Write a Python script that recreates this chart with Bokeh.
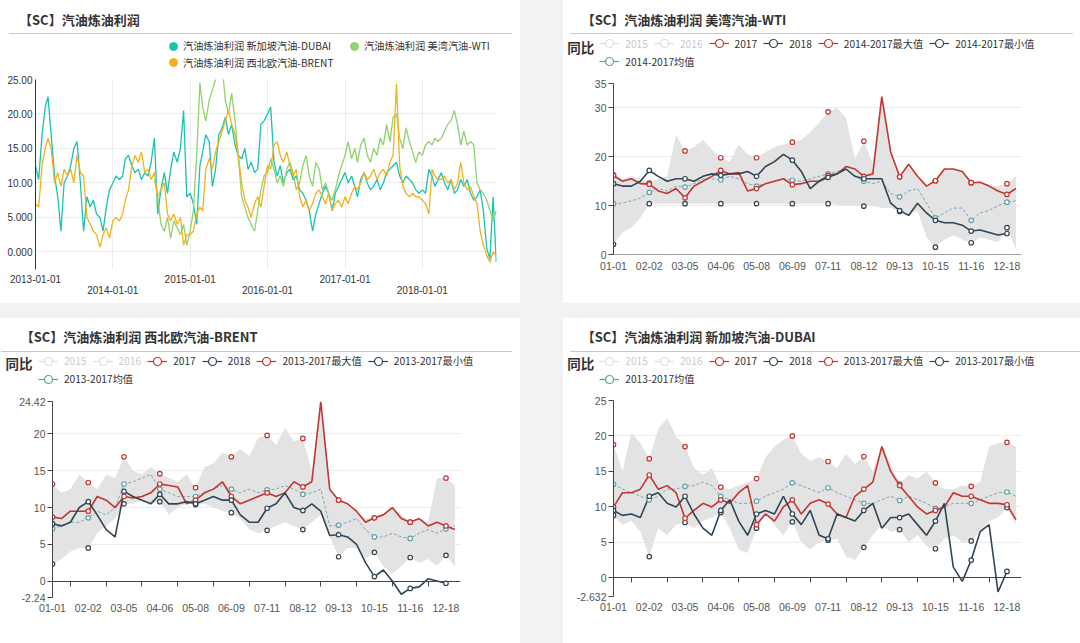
import pandas as pd
from bokeh.plotting import figure
from bokeh.models import (ColumnDataSource, FixedTicker, LinearAxis, Legend, LegendItem,
                          Label, Div, Range1d, CustomJSTickFormatter, Grid)
from bokeh.layouts import column, row
from bokeh.embed import file_html
from bokeh.resources import INLINE
from bokeh.core.properties import value

nan = float("nan")
CJK = "Noto Sans CJK SC"
NUM = "Liberation Sans"

# ---------------- Panel A : daily margins 2013-2018 (read at the 1st and 16th of each month)
year_labels = ["2013-01-01", "2014-01-01", "2015-01-01", "2016-01-01", "2017-01-01", "2018-01-01"]
a_start, a_end = "2013-01-01", "2018-12-17"
a_dates = [f"{y}-{m:02d}-{d:02d}" for y in range(2013, 2019) for m in range(1, 13) for d in (1, 16)]
a_names = ["汽油炼油利润 新加坡汽油-DUBAI", "汽油炼油利润 美湾汽油-WTI", "汽油炼油利润 西北欧汽油-BRENT"]
a_dubai = [12.5, 10.5, 17.0, 21.0, 22.5, 17.0, 11.0, 8.0, 3.0, 10.0, 11.0, 12.5, 15.0, 16.0, 10.0, 3.0, 8.0, 6.5, 7.5, 5.5, 5.0, 3.0, 6.5, 9.0,
           10.0, 11.0, 10.5, 11.0, 13.5, 14.0, 12.5, 11.5, 12.0, 10.5, 11.5, 11.0, 13.0, 16.5, 5.5, 9.0, 11.5, 8.5, 12.0, 14.5, 13.0, 15.0, 20.5, 8.0,
           8.5, 7.0, 4.0, 12.5, 14.5, 17.0, 16.0, 9.5, 12.0, 17.0, 18.0, 19.5, 17.0, 18.5, 15.5, 14.0, 13.5, 15.0, 12.0, 13.0, 11.5, 12.0, 18.5, 19.0,
           20.0, 21.0, 13.0, 11.0, 12.5, 10.0, 11.5, 12.0, 10.5, 11.0, 9.0, 8.5, 7.5, 6.0, 3.0, 5.5, 7.0, 8.5, 9.5, 8.5, 6.0, 8.5, 9.5, 10.5,
           11.5, 10.0, 11.0, 9.5, 8.0, 10.5, 11.5, 10.0, 9.0, 9.5, 10.5, 9.0, 10.0, 11.5, 12.0, 12.5, 13.0, 11.0, 10.0, 11.0, 10.5, 10.0, 9.0, 8.5,
           9.0, 8.5, 12.0, 11.0, 9.5, 10.5, 11.5, 10.0, 9.0, 10.5, 8.5, 9.0, 10.5, 9.5, 10.5, 8.5, 7.5, 8.0, 9.0, 6.0, 0.5, -1.0, 8.0, -1.5]
a_wti = [nan] * 37 + [10.5, 8.0, 4.0, 3.0, 5.0, 2.0, 4.5, 3.5, 2.5, 4.0, 1.0,
         3.0, 6.0, 14.0, 24.5, 21.0, 19.0, 22.0, 23.5, 25.0, 26.0, 27.0, 22.0, 20.0, 23.0, 19.0, 14.0, 8.0, 6.5, 5.0, 4.0, 3.0, 6.0, 9.0, 11.0,
         11.5, 13.5, 12.0, 10.0, 11.0, 9.5, 12.0, 13.0, 11.5, 9.0, 10.0, 12.5, 14.0, 11.0, 9.5, 13.0, 12.0, 9.0, 10.0, 8.5, 7.5, 9.0, 11.0, 12.5,
         14.0, 16.0, 13.5, 15.0, 13.0, 15.5, 16.5, 14.0, 13.0, 15.0, 14.0, 16.5, 15.5, 18.5, 16.0, 19.5, 20.0, 16.5, 15.0, 18.0, 16.0, 14.5, 13.0, 14.5,
         14.0, 15.5, 16.0, 15.5, 16.5, 16.0, 16.5, 17.5, 18.5, 19.0, 20.5, 18.5, 15.5, 17.5, 15.5, 16.0, 15.5, 10.0, 9.0, 8.5, 7.5, 6.0, 4.5, 6.0]
a_brent = [7.0, 6.5, 12.5, 15.0, 16.5, 15.0, 10.0, 11.5, 9.5, 12.0, 11.0, 12.0, 10.0, 14.0, 11.5, 11.0, 5.0, 4.0, 3.0, 2.5, 0.7, 2.5, 3.5, 2.0,
           4.5, 5.0, 4.5, 5.5, 7.5, 9.0, 12.5, 14.0, 13.0, 14.5, 11.5, 12.0, 10.5, 11.5, 8.0, 9.0, 10.0, 5.5, 4.5, 5.5, 4.0, 5.0, 1.0, 2.5,
           2.5, 3.0, 5.5, 6.5, 6.0, 12.0, 13.5, 12.0, 14.5, 16.0, 17.5, 19.0, 20.5, 18.5, 17.0, 14.0, 10.0, 7.5, 6.5, 5.0, 7.0, 8.0, 6.5, 9.5,
           12.5, 12.0, 15.5, 16.0, 14.0, 13.0, 14.5, 12.5, 11.0, 12.0, 8.0, 6.5, 7.5, 6.0, 7.0, 8.5, 9.0, 8.0, 7.0, 8.5, 6.0, 7.0, 7.5, 6.5,
           8.0, 7.0, 8.5, 9.5, 9.0, 10.0, 11.5, 10.5, 11.0, 12.0, 10.5, 11.5, 12.0, 11.0, 13.0, 14.0, 24.4, 12.5, 9.5, 8.5, 8.0, 8.5, 8.0, 8.0,
           7.5, 7.0, 5.5, 12.0, 11.0, 10.5, 10.5, 11.0, 10.0, 10.5, 9.0, 10.0, 13.0, 10.0, 9.0, 9.5, 8.0, 7.0, 3.0, 1.0, -0.5, -1.5, 0.0, -0.5]
a_yticks = [0, 5, 10, 15, 20, 25]
a_ylabels = ["0.000", "5.000", "10.00", "15.00", "20.00", "25.00"]
a_ymin = -2.55

# ---------------- Seasonal panels (x = day of a leap year, read every 8 days)
md_labels = ["01-01", "02-02", "03-05", "04-06", "05-08", "06-09", "07-11", "08-12", "09-13", "10-15", "11-16", "12-18"]
s_days = list(range(0, 361, 8))

wti_title = "【SC】汽油炼油利润 美湾汽油-WTI"
wti_names = ["2015", "2016", "2017", "2018", "2014-2017最大值", "2014-2017最小值", "2014-2017均值"]
wti_2017 = [16.2, 15.0, 15.5, 14.5, 14.4, 13.0, 12.5, 13.5, 11.6, 14.0, 15.0, 16.0, 17.2, 16.5, 16.8, 13.0, 13.5, 14.5, 15.0, 15.5, 14.3, 14.5, 15.0,
            15.0, 16.2, 16.5, 18.0, 17.5, 16.0, 16.5, 32.3, 21.0, 15.9, 18.5, 16.0, 14.0, 15.1, 17.5, 17.5, 17.0, 14.7, 14.8, 14.0, 13.0, 12.3, 13.5]
wti_2018 = [14.5, 14.0, 14.0, 15.0, 17.2, 16.0, 15.0, 15.5, 15.5, 15.0, 16.0, 16.5, 16.2, 16.5, 16.5, 17.0, 16.0, 18.0, 19.0, 20.5, 19.3, 17.0, 13.5,
            15.0, 15.8, 16.5, 17.5, 16.0, 15.5, 15.5, 15.5, 10.5, 9.0, 8.0, 10.5, 8.5, 7.0, 6.5, 6.5, 6.0, 4.8, 5.0, 4.5, 4.0, 4.3, nan]
wti_max = [16.3, 15.5, 16.0, 15.5, 14.6, 15.5, 16.0, 24.5, 21.2, 22.0, 23.5, 21.5, 19.8, 19.0, 22.5, 20.5, 19.8, 21.0, 22.0, 22.5, 23.0, 23.5, 25.0,
           27.0, 29.2, 30.0, 28.0, 19.5, 23.2, 18.5, 32.3, 21.0, 15.9, 18.5, 16.0, 14.0, 15.1, 17.5, 17.5, 17.0, 14.7, 14.8, 14.0, 14.0, 14.5, 16.0]
wti_min = [2.1, 4.5, 5.5, 7.5, 10.4, 10.4, 10.4, 10.4, 10.4, 10.4, 10.4, 10.4, 10.4, 10.4, 10.4, 10.4, 10.4, 10.4, 10.4, 10.4, 10.4, 10.4, 10.4,
           10.4, 10.4, 10.2, 10.0, 10.0, 9.9, 10.0, 9.5, 9.5, 8.8, 8.0, 9.0, 3.5, 1.5, 3.0, 4.0, 3.0, 2.4, 3.5, 3.0, 2.5, 5.5, 1.0]
wti_mean = [10.4, 10.5, 11.0, 11.5, 12.7, 13.5, 13.0, 14.0, 13.8, 14.5, 15.5, 15.5, 15.3, 16.0, 15.5, 14.5, 14.0, 14.5, 15.0, 15.5, 15.2, 15.0, 15.5,
            16.0, 16.5, 17.0, 17.5, 16.0, 15.0, 14.5, 15.0, 12.5, 11.8, 13.0, 13.5, 10.5, 7.5, 8.5, 9.5, 9.5, 7.0, 8.5, 9.0, 10.0, 10.7, 11.0]
wti_yticks = [0, 10, 20, 30, 35]
wti_ylabels = ["0", "10", "20", "30", "35"]

brent_title = "【SC】汽油炼油利润 西北欧汽油-BRENT"
brent_names = ["2015", "2016", "2017", "2018", "2013-2017最大值", "2013-2017最小值", "2013-2017均值"]
brent_2017 = [8.7, 8.5, 9.5, 9.5, 9.5, 11.5, 11.0, 10.0, 11.5, 11.3, 11.5, 12.0, 13.2, 13.0, 12.8, 10.5, 11.0, 12.0, 12.5, 13.5, 11.5, 10.5, 11.0,
              11.5, 12.0, 11.5, 12.0, 13.5, 12.8, 13.5, 24.4, 12.5, 11.0, 10.5, 9.5, 8.0, 8.6, 9.0, 10.0, 8.5, 8.0, 8.5, 7.5, 8.0, 7.5, 7.0]
brent_2018 = [7.8, 7.5, 8.0, 10.0, 10.8, 9.0, 7.0, 6.0, 12.2, 11.5, 11.0, 10.5, 11.8, 10.5, 10.5, 10.8, 10.5, 11.0, 11.5, 11.0, 11.0, 9.0, 8.0,
              8.0, 9.9, 10.5, 12.0, 10.0, 9.6, 10.5, 9.5, 6.2, 6.3, 6.0, 5.0, 2.5, 0.6, 1.5, 0.0, -1.8, -1.0, -0.8, 0.3, 0.0, -0.3, nan]
brent_max = [13.2, 12.0, 12.5, 14.5, 13.4, 12.5, 14.5, 14.0, 16.9, 15.0, 14.5, 15.5, 14.6, 14.0, 13.5, 14.5, 12.7, 15.5, 16.0, 17.5, 16.9, 18.0, 17.0,
             19.5, 19.8, 18.5, 20.8, 19.0, 19.4, 15.0, 24.4, 12.5, 11.0, 10.5, 9.5, 8.5, 8.6, 9.0, 10.0, 9.0, 8.0, 8.5, 8.0, 14.0, 14.0, 13.0]
brent_min = [2.3, 3.0, 4.0, 4.5, 4.5, 6.5, 7.5, 8.5, 10.5, 10.5, 11.0, 10.5, 10.8, 9.0, 10.0, 10.5, 10.4, 10.5, 10.0, 9.5, 9.3, 8.5, 7.0,
             6.5, 6.9, 7.5, 8.0, 7.5, 7.0, 8.0, 9.0, 6.0, 3.3, 4.5, 4.5, 3.0, 3.9, 2.0, 1.0, 2.0, 3.2, 2.5, 3.0, 2.0, 3.5, 2.0]
brent_mean = [7.1, 7.5, 8.0, 8.0, 8.6, 9.5, 9.0, 10.0, 13.2, 13.5, 14.0, 14.5, 12.5, 12.0, 11.5, 11.5, 11.5, 12.0, 12.5, 13.0, 12.5, 12.0, 12.5,
              12.0, 12.4, 12.5, 13.0, 12.5, 11.8, 12.0, 12.5, 7.5, 7.6, 8.0, 8.5, 7.0, 6.0, 6.0, 6.5, 6.0, 5.8, 6.5, 7.0, 6.5, 7.1, 7.5]
brent_yticks = [-2.24, 0, 5, 10, 15, 20, 24.42]
brent_ylabels = ["-2.24", "0", "5", "10", "15", "20", "24.42"]

dubai_title = "【SC】汽油炼油利润 新加坡汽油-DUBAI"
dubai_names = brent_names
dubai_2017 = [10.0, 12.0, 12.0, 12.5, 14.5, 12.5, 13.0, 12.0, 8.4, 9.5, 10.5, 10.0, 11.0, 10.5, 12.0, 13.0, 7.5, 9.0, 8.0, 10.0, 11.0, 9.0, 10.5,
              11.0, 10.4, 9.0, 8.5, 11.5, 12.5, 13.5, 18.5, 15.0, 13.0, 11.5, 10.0, 9.0, 9.5, 10.0, 12.0, 11.5, 11.5, 11.0, 10.5, 10.5, 10.3, 8.2]
dubai_2018 = [9.5, 8.8, 9.0, 8.5, 11.5, 12.0, 10.5, 10.0, 11.5, 9.0, 7.0, 6.0, 9.5, 11.0, 8.0, 6.0, 9.0, 9.5, 9.0, 11.5, 9.0, 7.5, 9.5,
              6.0, 5.5, 9.0, 8.5, 8.0, 9.5, 10.5, 7.0, 8.5, 8.5, 9.0, 7.5, 6.0, 8.0, 10.5, 1.5, -0.5, 2.5, 6.5, 7.5, -2.0, 0.9, nan]
dubai_max = [18.8, 15.0, 20.5, 19.0, 16.8, 21.0, 22.5, 20.0, 18.5, 15.5, 14.5, 15.5, 12.8, 12.5, 13.0, 13.5, 14.0, 17.0, 18.5, 19.5, 20.0, 17.5, 16.5,
             17.0, 16.4, 15.5, 17.5, 16.0, 17.1, 15.0, 18.8, 16.0, 13.2, 14.5, 14.0, 15.0, 13.4, 12.5, 12.5, 13.0, 12.9, 13.5, 18.5, 19.0, 19.1, 18.5]
dubai_min = [8.8, 7.5, 8.0, 6.5, 3.0, 7.0, 6.0, 7.5, 7.8, 7.0, 8.0, 8.5, 9.2, 7.0, 4.0, 3.5, 7.0, 9.0, 7.5, 6.0, 7.9, 5.0, 4.0,
             5.0, 5.3, 5.5, 3.0, 2.5, 4.3, 6.0, 7.5, 6.5, 6.8, 5.0, 6.0, 4.5, 4.1, 5.5, 6.0, 5.0, 5.2, 6.5, 8.0, 8.5, 9.9, 7.5]
dubai_mean = [13.2, 12.5, 12.0, 11.5, 11.0, 11.5, 12.5, 12.5, 12.9, 13.0, 13.5, 13.0, 11.5, 11.0, 10.5, 10.5, 10.8, 11.5, 12.0, 12.5, 13.4, 13.0, 12.5,
              12.0, 12.7, 12.0, 11.5, 11.0, 10.5, 10.5, 11.0, 11.5, 10.9, 11.5, 11.0, 10.5, 9.8, 10.0, 10.5, 10.5, 10.5, 11.0, 11.5, 12.0, 12.1, 11.5]
dubai_yticks = [-2.632, 0, 5, 10, 15, 20, 25]
dubai_ylabels = ["-2.632", "0", "5", "10", "15", "20", "25"]

# ---------------- styling constants
RED, DARK, TEAL_M, FADED = "#c23531", "#2f4554", "#61a0a8", "#8a8a8a"
A_COLORS = ["#19c3b1", "#8fd36c", "#f4b11c"]
BAND = "#e3e3e3"
GRIDC = "#ececec"


def lookup_fmt(ticks, labels):
    return CustomJSTickFormatter(args=dict(tk=[float(t) for t in ticks], lb=list(labels)),
                                 code="const i = tk.findIndex(t => Math.abs(t - tick) < 1e-6); return i < 0 ? '' : lb[i];")


def title_div(text, W, H, tx, ty, ry, rx0, rx1):
    html = (f'<div style="position:relative;width:{W}px;height:{H}px;">'
            f'<div style="position:absolute;left:{tx}px;top:{ty - 10}px;height:20px;line-height:20px;'
            f'font-family:\'{CJK}\';font-weight:bold;font-size:13px;color:#333;white-space:nowrap;">{text}</div>'
            f'<div style="position:absolute;left:{rx0}px;top:{ry}px;width:{rx1 - rx0}px;height:0;'
            f'border-top:1px solid #c8c8c8;"></div></div>')
    return Div(text=html, width=W, height=H, margin=0, styles={"background-color": "white"})


def header_fig(W, Hh):
    h = figure(width=W, height=Hh, output_backend="svg", toolbar_location=None,
               x_range=Range1d(0, W), y_range=Range1d(0, Hh), x_axis_type=None, y_axis_type=None,
               min_border=0, frame_align=False)
    h.outline_line_color = None
    return h


def make_legend(items, x, y, glyph=20, standoff=6, spacing=6):
    return Legend(items=items, location=(x, y), orientation="horizontal",
                  glyph_width=glyph, glyph_height=glyph, label_height=glyph, label_standoff=standoff,
                  spacing=spacing, padding=0, margin=0, border_line_alpha=0, background_fill_alpha=0,
                  label_text_font=CJK, label_text_font_size="10.2px", label_text_color="#333333",
                  label_text_baseline="middle",
                  click_policy="hide", inactive_fill_color="white", inactive_fill_alpha=0.72)


def panel_a():
    W = 520
    t0 = pd.Timestamp(a_start)
    d = [(pd.Timestamp(s) - t0).days for s in a_dates]
    yt = [(pd.Timestamp(s) - t0).days for s in year_labels]
    xend = (pd.Timestamp(a_end) - t0).days
    src = ColumnDataSource(dict(d=d, dubai=a_dubai, wti=a_wti, brent=a_brent))
    p = figure(width=W, height=229, output_backend="svg", toolbar_location=None,
               x_range=Range1d(0, xend), y_range=Range1d(a_ymin, 25),
               x_axis_type=None, y_axis_type=None, frame_align=False,
               min_border_left=35, min_border_right=24, min_border_top=5, min_border_bottom=34)
    p.outline_line_color = None
    p.add_layout(Grid(dimension=1, ticker=FixedTicker(ticks=a_yticks), grid_line_color=GRIDC))
    p.add_layout(Grid(dimension=0, ticker=FixedTicker(ticks=yt), grid_line_color=GRIDC))
    ya = LinearAxis(ticker=FixedTicker(ticks=a_yticks), formatter=lookup_fmt(a_yticks, a_ylabels),
                    axis_line_color="#333333", major_tick_out=0, major_tick_in=0, minor_tick_out=0, minor_tick_in=0,
                    major_label_standoff=3, major_label_text_font=NUM, major_label_text_font_size="10px",
                    major_label_text_color="#333333")
    p.add_layout(ya, "left")
    for k, stand in ((0, 5), (1, 0)):
        ticks = yt[k::2]
        labs = year_labels[k::2]
        xa = LinearAxis(ticker=FixedTicker(ticks=ticks), formatter=lookup_fmt(ticks, labs),
                        axis_line_alpha=0, major_tick_out=0, major_tick_in=0, minor_tick_out=0, minor_tick_in=0,
                        major_label_standoff=stand, major_label_text_font=NUM, major_label_text_font_size="10px",
                        major_label_text_color="#333333")
        p.add_layout(xa, "below")
    for col, c in zip(["dubai", "wti", "brent"], A_COLORS):
        p.line("d", col, source=src, line_color=c, line_width=1.3)

    hd = header_fig(W, 40)
    proxies = [hd.scatter(x=[nan], y=[nan], marker="circle", fill_color=c, line_color=c) for c in A_COLORS]
    lg1 = make_legend([LegendItem(label=value(a_names[0]), renderers=[proxies[0]]),
                       LegendItem(label=value(a_names[1]), renderers=[proxies[1]])], 163, 18.3,
                      standoff=0, spacing=13)
    lg2 = make_legend([LegendItem(label=value(a_names[2]), renderers=[proxies[2]])], 163, 2, standoff=0)
    hd.add_layout(lg1)
    hd.add_layout(lg2)
    div = title_div("【SC】汽油炼油利润", W, 34, 19, 20, 33, 9, 512)
    return column(div, hd, p, spacing=0, styles={"background-color": "white"})


def panel_season(title, names, v17, v18, vmax, vmin, vmean, yticks, ylabels, W, tx, ty,
                 rx0, rx1, Hh, mainH, borders, lab_standoff, leg_x, leg_y1, leg_y2, tb_x, tb_y):
    t_leap = pd.Timestamp("2016-01-01")
    md_days = [(pd.Timestamp("2016-" + s) - t_leap).days for s in md_labels]
    mids = [(a + b) / 2 for a, b in zip(md_days[:-1], md_days[1:])]
    src = ColumnDataSource(dict(d=s_days, y17=v17, y18=v18, mx=vmax, mn=vmin, mean=vmean))
    mk = ColumnDataSource(dict(d=s_days[::4], y17=v17[::4], y18=v18[::4], mx=vmax[::4], mn=vmin[::4], mean=vmean[::4]))
    bl, br, bt, bb = borders
    p = figure(width=W, height=mainH, output_backend="svg", toolbar_location=None,
               x_range=Range1d(0, 365), y_range=Range1d(yticks[0], yticks[-1]),
               x_axis_type=None, y_axis_type=None, frame_align=False,
               min_border_left=bl, min_border_right=br, min_border_top=bt, min_border_bottom=bb)
    p.outline_line_color = None
    gt = [t for t in yticks if t > 0]
    p.add_layout(Grid(dimension=1, ticker=FixedTicker(ticks=gt), grid_line_color=GRIDC))
    ya = LinearAxis(ticker=FixedTicker(ticks=yticks), formatter=lookup_fmt(yticks, ylabels),
                    axis_line_color="#444444", major_tick_out=5, major_tick_in=0, major_tick_line_color="#444444",
                    minor_tick_out=0, minor_tick_in=0, major_label_standoff=2,
                    major_label_text_font=NUM, major_label_text_font_size="10.5px", major_label_text_color="#555555")
    p.add_layout(ya, "left")
    xl = LinearAxis(ticker=FixedTicker(ticks=md_days), formatter=lookup_fmt(md_days, md_labels),
                    axis_line_alpha=0, major_tick_out=0, major_tick_in=0, minor_tick_out=0, minor_tick_in=0,
                    major_label_standoff=lab_standoff, major_label_text_font=NUM, major_label_text_font_size="10.5px",
                    major_label_text_color="#555555")
    p.add_layout(xl, "below")
    x0 = LinearAxis(fixed_location=0, ticker=FixedTicker(ticks=[], minor_ticks=mids),
                    formatter=CustomJSTickFormatter(code="return '';"),
                    axis_line_color="#444444", major_tick_out=0, major_tick_in=0,
                    minor_tick_out=5, minor_tick_in=0, minor_tick_line_color="#444444",
                    major_label_text_font_size="1px")
    p.add_layout(x0, "below")

    p.varea(x="d", y1="mn", y2="mx", source=src, fill_color=BAND, fill_alpha=1.0)
    p.line("d", "mean", source=src, line_color=TEAL_M, line_width=1, line_dash="3 2", line_alpha=0.85)
    p.line("d", "y17", source=src, line_color=RED, line_width=1.6)
    p.line("d", "y18", source=src, line_color=DARK, line_width=1.6)
    sk = dict(marker="circle", size=4.5, fill_color="white", line_width=1.2)
    p.scatter("d", "mx", source=mk, line_color=RED, **sk)
    p.scatter("d", "mn", source=mk, line_color=DARK, **sk)
    p.scatter("d", "mean", source=mk, line_color=TEAL_M, **sk)
    p.scatter("d", "y17", source=mk, line_color=RED, **sk)
    p.scatter("d", "y18", source=mk, line_color=DARK, **sk)

    # header with the legend (icons: line + hollow circle)
    hd = header_fig(W, Hh)
    lk = dict(marker="circle", fill_color="white", line_width=1.2)

    def icon(color, visible=True):
        l = hd.line(x=[nan], y=[nan], line_color=color, line_width=1.2, visible=visible)
        s = hd.scatter(x=[nan], y=[nan], line_color=color, visible=visible, **lk)
        return [l, s]

    items1 = [LegendItem(label=value(names[0]), renderers=icon(FADED, False)),
              LegendItem(label=value(names[1]), renderers=icon(FADED, False)),
              LegendItem(label=value(names[2]), renderers=icon(RED)),
              LegendItem(label=value(names[3]), renderers=icon(DARK)),
              LegendItem(label=value(names[4]), renderers=icon(RED)),
              LegendItem(label=value(names[5]), renderers=icon(DARK))]
    items2 = [LegendItem(label=value(names[6]), renderers=icon(TEAL_M))]
    hd.add_layout(make_legend(items1, leg_x, leg_y1))
    hd.add_layout(make_legend(items2, leg_x, leg_y2))
    hd.add_layout(Label(x=tb_x, y=tb_y, x_units="screen", y_units="screen", text="同比",
                        text_font=CJK, text_font_size="13.5px", text_font_style="bold",
                        text_color="#333333", text_baseline="middle", text_align="left"))
    div = title_div(title, W, 34, tx, ty, 33, rx0, rx1)
    return column(div, hd, p, spacing=0, styles={"background-color": "white"})


pA = panel_a()
pB = panel_season(wti_title, wti_names, wti_2017, wti_2018, wti_max, wti_min, wti_mean, wti_yticks, wti_ylabels,
                  517, 18.7, 20, 7, 510, 38, 231, (50, 59, 11, 49), 7, 36.3, 18.7, 0.7, 3.7, 25.3)
pC = panel_season(brent_title, brent_names, brent_2017, brent_2018, brent_max, brent_min, brent_mean,
                  brent_yticks, brent_ylabels, 520, 20.7, 18.7, 1, 512, 38, 253, (52, 60, 11, 46), 6,
                  37.9, 19.3, 1.3, 5, 27.3)
pD = panel_season(dubai_title, dubai_names, dubai_2017, dubai_2018, dubai_max, dubai_min, dubai_mean,
                  dubai_yticks, dubai_ylabels, 517, 18.7, 18.7, 7, 517, 38, 253, (50, 59, 10, 47), 6,
                  36.3, 19.3, 1.3, 3.7, 27.3)

layout = column(row(pA, pB, spacing=43), row(pC, pD, spacing=43), spacing=15,
                styles={"background-color": "#f2f2f2"})

open("out.html", "w").write(file_html(layout, INLINE))
